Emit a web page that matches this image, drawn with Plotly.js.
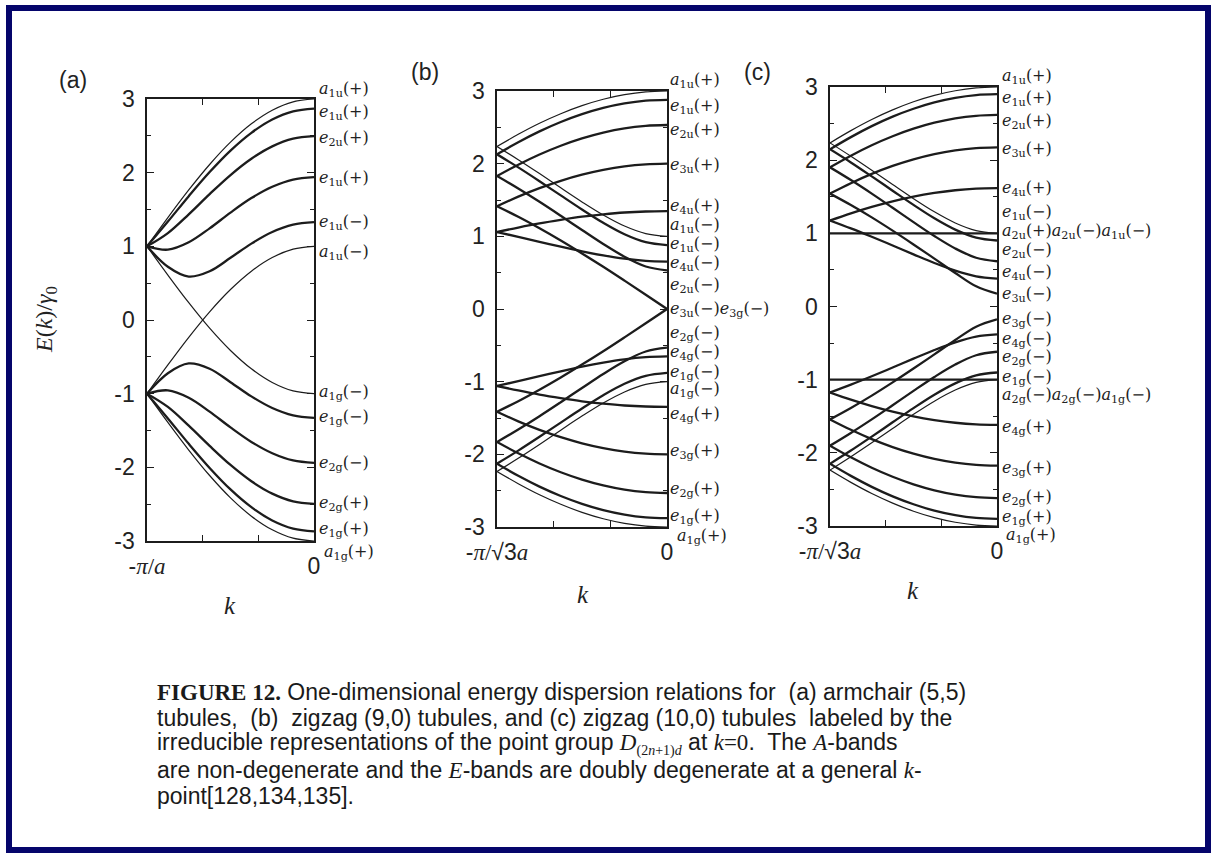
<!DOCTYPE html>
<html><head><meta charset="utf-8">
<script src="https://cdn.plot.ly/plotly-3.0.1.min.js"></script>
<style>html,body{margin:0;padding:0;background:#fff;} #chart{width:1217px;height:858px;}</style>
</head><body><div id="chart"></div>
<script>
// k from zone edge (-1) to k=0 (0), fraction of the zone
const kFrac = [-1, -0.875, -0.75, -0.625, -0.5, -0.375, -0.25, -0.125, 0];

// ---- (a) armchair (5,5) : upper bands
const aU1 = [1, 1.390, 1.765, 2.111, 2.414, 2.663, 2.848, 2.962, 3];
const aU2 = [1, 1.336, 1.681, 2.008, 2.300, 2.541, 2.721, 2.832, 2.870];
const aU3 = [1, 1.180, 1.435, 1.709, 1.968, 2.189, 2.357, 2.462, 2.497];
const aU4 = [1, 0.955, 1.055, 1.244, 1.458, 1.655, 1.809, 1.907, 1.940];
const aU5 = [1, 0.722, 0.589, 0.661, 0.844, 1.037, 1.194, 1.294, 1.328];
const aU6 = [1, 0.610, 0.235, -0.111, -0.414, -0.663, -0.848, -0.962, -1];
// (a) lower bands
const aL1 = [-1, -1.390, -1.765, -2.111, -2.414, -2.663, -2.848, -2.962, -3];
const aL2 = [-1, -1.336, -1.681, -2.008, -2.300, -2.541, -2.721, -2.832, -2.870];
const aL3 = [-1, -1.180, -1.435, -1.709, -1.968, -2.189, -2.357, -2.462, -2.497];
const aL4 = [-1, -0.955, -1.055, -1.244, -1.458, -1.655, -1.809, -1.907, -1.940];
const aL5 = [-1, -0.722, -0.589, -0.661, -0.844, -1.037, -1.194, -1.294, -1.328];
const aL6 = [-1, -0.610, -0.235, 0.111, 0.414, 0.663, 0.848, 0.962, 1];

// ---- (b) zigzag (9,0)
const bU1 = [2.236, 2.404, 2.556, 2.687, 2.798, 2.886, 2.949, 2.987, 3];
const bU2 = [2.129, 2.295, 2.444, 2.573, 2.681, 2.767, 2.829, 2.867, 2.879];
const bU3 = [1.830, 1.986, 2.126, 2.247, 2.348, 2.428, 2.486, 2.520, 2.532];
const bU4 = [1.414, 1.546, 1.663, 1.764, 1.848, 1.914, 1.962, 1.990, 2.000];
const bU5 = [1.059, 1.121, 1.178, 1.227, 1.270, 1.303, 1.328, 1.342, 1.347];
const bU6 = [1.059, 0.993, 0.925, 0.857, 0.793, 0.737, 0.692, 0.663, 0.653];
const bU7 = [1.414, 1.269, 1.111, 0.943, 0.765, 0.581, 0.390, 0.196, 0];
const bU8 = [1.830, 1.658, 1.475, 1.283, 1.087, 0.894, 0.719, 0.585, 0.532];
const bU9 = [2.129, 1.949, 1.759, 1.563, 1.369, 1.186, 1.029, 0.920, 0.879];
const bU10 = [2.236, 2.054, 1.863, 1.667, 1.474, 1.294, 1.142, 1.038, 1.000];
const bL1 = [-2.236, -2.404, -2.556, -2.687, -2.798, -2.886, -2.949, -2.987, -3];
const bL2 = [-2.129, -2.295, -2.444, -2.573, -2.681, -2.767, -2.829, -2.867, -2.879];
const bL3 = [-1.830, -1.986, -2.126, -2.247, -2.348, -2.428, -2.486, -2.520, -2.532];
const bL4 = [-1.414, -1.546, -1.663, -1.764, -1.848, -1.914, -1.962, -1.990, -2.000];
const bL5 = [-1.059, -1.121, -1.178, -1.227, -1.270, -1.303, -1.328, -1.342, -1.347];
const bL6 = [-1.059, -0.993, -0.925, -0.857, -0.793, -0.737, -0.692, -0.663, -0.653];
const bL7 = [-1.414, -1.269, -1.111, -0.943, -0.765, -0.581, -0.390, -0.196, 0];
const bL8 = [-1.830, -1.658, -1.475, -1.283, -1.087, -0.894, -0.719, -0.585, -0.532];
const bL9 = [-2.129, -1.949, -1.759, -1.563, -1.369, -1.186, -1.029, -0.920, -0.879];
const bL10 = [-2.236, -2.054, -1.863, -1.667, -1.474, -1.294, -1.142, -1.038, -1.000];

// ---- (c) zigzag (10,0)
const cU1 = [2.236, 2.404, 2.556, 2.687, 2.798, 2.886, 2.949, 2.987, 3];
const cU2 = [2.149, 2.315, 2.465, 2.595, 2.703, 2.790, 2.852, 2.890, 2.902];
const cU3 = [1.902, 2.061, 2.204, 2.327, 2.430, 2.512, 2.571, 2.606, 2.618];
const cU4 = [1.543, 1.685, 1.812, 1.921, 2.011, 2.083, 2.134, 2.165, 2.176];
const cU5 = [1.176, 1.274, 1.362, 1.438, 1.502, 1.552, 1.589, 1.611, 1.618];
const cU6 = [1, 1, 1, 1, 1, 1, 1, 1, 1];
const cU7 = [1.176, 1.068, 0.953, 0.834, 0.713, 0.595, 0.490, 0.412, 0.382];
const cU8 = [1.543, 1.387, 1.218, 1.037, 0.848, 0.654, 0.458, 0.276, 0.176];
const cU9 = [1.902, 1.728, 1.543, 1.349, 1.153, 0.963, 0.793, 0.666, 0.618];
const cU10 = [2.149, 1.969, 1.778, 1.583, 1.389, 1.206, 1.051, 0.942, 0.902];
const cU11 = [2.236, 2.054, 1.863, 1.667, 1.474, 1.294, 1.142, 1.038, 1.000];
const cL1 = [-2.236, -2.404, -2.556, -2.687, -2.798, -2.886, -2.949, -2.987, -3];
const cL2 = [-2.149, -2.315, -2.465, -2.595, -2.703, -2.790, -2.852, -2.890, -2.902];
const cL3 = [-1.902, -2.061, -2.204, -2.327, -2.430, -2.512, -2.571, -2.606, -2.618];
const cL4 = [-1.543, -1.685, -1.812, -1.921, -2.011, -2.083, -2.134, -2.165, -2.176];
const cL5 = [-1.176, -1.274, -1.362, -1.438, -1.502, -1.552, -1.589, -1.611, -1.618];
const cL6 = [-1, -1, -1, -1, -1, -1, -1, -1, -1];
const cL7 = [-1.176, -1.068, -0.953, -0.834, -0.713, -0.595, -0.490, -0.412, -0.382];
const cL8 = [-1.543, -1.387, -1.218, -1.037, -0.848, -0.654, -0.458, -0.276, -0.176];
const cL9 = [-1.902, -1.728, -1.543, -1.349, -1.153, -0.963, -0.793, -0.666, -0.618];
const cL10 = [-2.149, -1.969, -1.778, -1.583, -1.389, -1.206, -1.051, -0.942, -0.902];
const cL11 = [-2.236, -2.054, -1.863, -1.667, -1.474, -1.294, -1.142, -1.038, -1.000];

// ---- tick labels
const yTickVals = [-3, -2, -1, 0, 1, 2, 3];
const yTickText = ['-3', '-2', '-1', '0', '1', '2', '3'];
const xTickTextA = ['-<span style="font-family:Liberation Serif"><i>π</i>/<i>a</i></span>', '0'];
const xTickTextBC = ['-<span style="font-family:Liberation Serif"><i>π</i>/</span>√3<span style="font-family:Liberation Serif"><i>a</i></span>', '0'];

// ---- band labels (irreducible representations at k=0)
const lb = (l, s, g) => `<i>${l}</i><sub>${s}</sub>(${g})`;
const labelsA = [lb('a','1u','+'), lb('e','1u','+'), lb('e','2u','+'), lb('e','1u','+'), lb('e','1u','−'), lb('a','1u','−'),
  lb('a','1g','−'), lb('e','1g','−'), lb('e','2g','−'), lb('e','2g','+'), lb('e','1g','+'), lb('a','1g','+')];
const labelYA = [3.13, 2.81, 2.46, 1.92, 1.33, 0.92, -0.98, -1.33, -1.95, -2.49, -2.84, -3.16];
const labelsB = [lb('a','1u','+'), lb('e','1u','+'), lb('e','2u','+'), lb('e','3u','+'), lb('e','4u','+'), lb('a','1u','−'),
  lb('e','1u','−'), lb('e','4u','−'), lb('e','2u','−'), lb('e','3u','−') + lb('e','3g','−'), lb('e','2g','−'), lb('e','4g','−'),
  lb('e','1g','−'), lb('a','1g','−'), lb('e','4g','+'), lb('e','3g','+'), lb('e','2g','+'), lb('e','1g','+'), lb('a','1g','+')];
const labelYB = [3.14, 2.79, 2.45, 1.97, 1.41, 1.15, 0.89, 0.62, 0.33, 0, -0.34, -0.60, -0.87, -1.11, -1.45, -1.96, -2.48, -2.85, -3.13];
const labelsC = [lb('a','1u','+'), lb('e','1u','+'), lb('e','2u','+'), lb('e','3u','+'), lb('e','4u','+'), lb('e','1u','−'),
  lb('a','2u','+') + lb('a','2u','−') + lb('a','1u','−'), lb('e','2u','−'), lb('e','4u','−'), lb('e','3u','−'),
  lb('e','3g','−'), lb('e','4g','−'), lb('e','2g','−'), lb('e','1g','−'), lb('a','2g','−') + lb('a','2g','−') + lb('a','1g','−'),
  lb('e','4g','+'), lb('e','3g','+'), lb('e','2g','+'), lb('e','1g','+'), lb('a','1g','+')];
const labelYC = [3.14, 2.84, 2.53, 2.15, 1.61, 1.29, 1.02, 0.76, 0.46, 0.16, -0.18, -0.45, -0.70, -0.97, -1.22, -1.65, -2.22, -2.61, -2.88, -3.13];

const captionLines = [
  '<span style="font-family:Liberation Serif"><b>FIGURE 12.</b></span> One-dimensional energy dispersion relations for  (a) armchair (5,5)',
  'tubules,  (b)  zigzag (9,0) tubules, and (c) zigzag (10,0) tubules  labeled by the',
  'irreducible representations of the point group <span style="font-family:Liberation Serif"><i>D</i><sub><span style="font-size:14px">(2<i>n</i>+1)<i>d</i></span></sub></span> at <span style="font-family:Liberation Serif"><i>k</i>=0</span>.  The <span style="font-family:Liberation Serif"><i>A</i></span>-bands',
  'are non-degenerate and the <span style="font-family:Liberation Serif"><i>E</i></span>-bands are doubly degenerate at a general <span style="font-family:Liberation Serif"><i>k</i></span>-',
  'point[128,134,135].'
];

// ---------- build ----------
const W = 1217, H = 858;
const px = x => x / W, py = y => 1 - y / H;
const INK = '#1c1c1c';
const THIN = 1.2, THICK = 2.3;

const boxes = [ // pixel boxes of the three plot frames
  {l:147, r:314, t:99, b:541},
  {l:497, r:667, t:91, b:527},
  {l:830, r:997, t:87, b:526}
];

const panels = [
  {xa:'x', ya:'y', bands:[[aU1,THIN],[aU2,THICK],[aU3,THICK],[aU4,THICK],[aU5,THICK],[aU6,THIN],
                          [aL1,THIN],[aL2,THICK],[aL3,THICK],[aL4,THICK],[aL5,THICK],[aL6,THIN]]},
  {xa:'x2', ya:'y2', bands:[[bU1,THIN],[bU2,THICK],[bU3,THICK],[bU4,THICK],[bU5,THICK],[bU6,THICK],[bU7,THICK],[bU8,THICK],[bU9,THICK],[bU10,THIN],
                            [bL1,THIN],[bL2,THICK],[bL3,THICK],[bL4,THICK],[bL5,THICK],[bL6,THICK],[bL7,THICK],[bL8,THICK],[bL9,THICK],[bL10,THIN]]},
  {xa:'x3', ya:'y3', bands:[[cU1,THIN],[cU2,THICK],[cU3,THICK],[cU4,THICK],[cU5,THICK],[cU6,THICK],[cU7,THICK],[cU8,THICK],[cU9,THICK],[cU10,THICK],[cU11,THIN],
                            [cL1,THIN],[cL2,THICK],[cL3,THICK],[cL4,THICK],[cL5,THICK],[cL6,THICK],[cL7,THICK],[cL8,THICK],[cL9,THICK],[cL10,THICK],[cL11,THIN]]}
];
const traces = [];
panels.forEach(p => p.bands.forEach(([arr, w]) => traces.push({
  type:'scatter', mode:'lines', x:kFrac, y:arr, xaxis:p.xa, yaxis:p.ya,
  line:{color:INK, width:w, shape:'spline', smoothing:1}, hoverinfo:'skip', showlegend:false
})));

const tickFont = {family:'Liberation Sans, Arial, sans-serif', size:23, color:'#222'};
function xAxis(bx, anchor, ttext) {
  return {domain:[px(bx.l), px(bx.r)], anchor:anchor, range:[-1,0], showline:true, mirror:'ticks', linecolor:INK, linewidth:1.6,
    showgrid:false, zeroline:false, ticks:'inside', ticklen:6, tickcolor:INK, tickwidth:1,
    tickmode:'array', tickvals:[-1,0], ticktext:ttext, tickfont:tickFont, ticklabelstandoff:4,
    minor:{tickmode:'array', tickvals:[-2/3,-1/3], ticks:'inside', ticklen:6, tickcolor:INK, tickwidth:1}};
}
function yAxis(bx, anchor) {
  return {domain:[py(bx.b), py(bx.t)], anchor:anchor, range:[-3,3], showline:true, mirror:'ticks', linecolor:INK, linewidth:1.6,
    showgrid:false, zeroline:false, ticks:'inside', ticklen:7, tickcolor:INK, tickwidth:1,
    tickmode:'array', tickvals:yTickVals, ticktext:yTickText, tickfont:tickFont, ticklabelstandoff:6,
    minor:{dtick:0.5, tick0:0, ticks:'inside', ticklen:4, tickcolor:INK, tickwidth:1}};
}

const annotations = [];
const labFont = {family:'DejaVu Serif, Liberation Serif, serif', size:16, color:'#222'};
// convert an energy value of a panel into paper y (labels may sit just outside the frame)
const eToPaper = (bx, v) => py(bx.b) + (v + 3) / 6 * (py(bx.t) - py(bx.b));
function addLabels(texts, ys, bx, xpx, xLast) {
  texts.forEach((t, i) => annotations.push({xref:'paper', yref:'paper',
    x:px(i === texts.length - 1 ? xLast : xpx), y:eToPaper(bx, ys[i]), text:t,
    showarrow:false, xanchor:'left', yanchor:'middle', font:labFont}));
}
addLabels(labelsA, labelYA, boxes[0], 317, 322);
addLabels(labelsB, labelYB, boxes[1], 668, 675);
addLabels(labelsC, labelYC, boxes[2], 1000, 1004);

const serifItal = {family:'Liberation Serif, Times New Roman, serif', size:25, color:'#222'};
// panel letters
[['(a)',73,80],['(b)',425,72],['(c)',757,72]].forEach(([t,x,y]) => annotations.push({xref:'paper', yref:'paper', x:px(x), y:py(y),
  text:t, showarrow:false, xanchor:'center', yanchor:'middle', font:{family:'Liberation Sans, Arial, sans-serif', size:23, color:'#222'}}));
// axis titles
annotations.push({xref:'paper', yref:'paper', x:px(46), y:py(320), text:'<i>E</i>(<i>k</i>)/<i>γ</i><sub>0</sub>', textangle:-90,
  showarrow:false, xanchor:'center', yanchor:'middle', font:{family:'Liberation Serif, serif', size:24, color:'#222'}});
[[230,605],[583,594],[913,590]].forEach(([x,y]) => annotations.push({xref:'paper', yref:'paper', x:px(x), y:py(y), text:'<i>k</i>',
  showarrow:false, xanchor:'center', yanchor:'middle', font:serifItal}));
// caption
const capY = [692, 718, 744, 770, 796];
captionLines.forEach((t, i) => annotations.push({xref:'paper', yref:'paper', x:px(155), y:py(capY[i]), text:t,
  showarrow:false, xanchor:'left', yanchor:'middle', font:{family:'Liberation Sans, Arial, sans-serif', size:23, color:'#1a1a1a'}}));

const shapes = [
  {type:'rect', xref:'paper', yref:'paper', x0:px(9), x1:px(1208), y0:py(8), y1:py(850), line:{color:'#05056b', width:6}, layer:'above'}
];

const layout = {
  width:W, height:H, margin:{l:0, r:0, t:0, b:0}, paper_bgcolor:'#ffffff', plot_bgcolor:'rgba(0,0,0,0)', showlegend:false,
  xaxis: xAxis(boxes[0], 'y', xTickTextA),
  yaxis: yAxis(boxes[0], 'x'),
  xaxis2: xAxis(boxes[1], 'y2', xTickTextBC),
  yaxis2: yAxis(boxes[1], 'x2'),
  xaxis3: xAxis(boxes[2], 'y3', xTickTextBC),
  yaxis3: yAxis(boxes[2], 'x3'),
  annotations: annotations, shapes: shapes
};
Plotly.newPlot('chart', traces, layout, {staticPlot:true, displayModeBar:false});
</script></body></html>
